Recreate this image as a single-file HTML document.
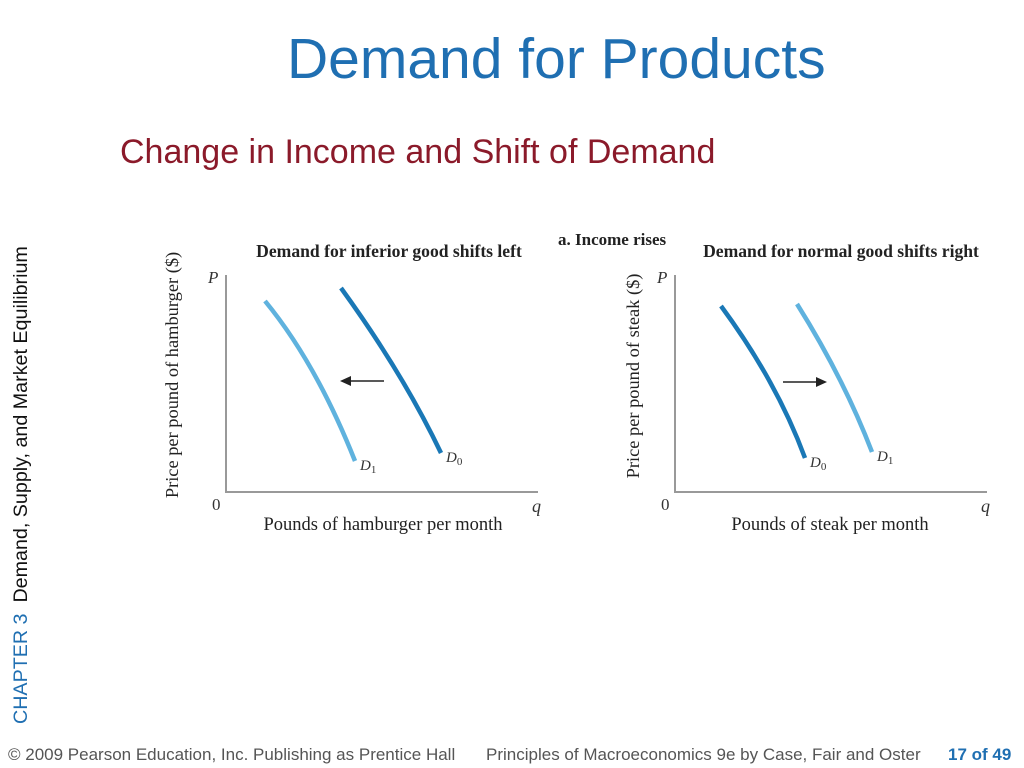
<!DOCTYPE html>
<html><head><meta charset="utf-8">
<style>
body{margin:0;width:1024px;height:768px;background:#fff;position:relative;overflow:hidden;font-family:"Liberation Sans",sans-serif}
.abs{position:absolute;white-space:nowrap}
.foot{font-family:"Liberation Sans Narrow","Liberation Sans",sans-serif;font-size:17px;color:#555;top:745px;transform-origin:0 0}
</style></head><body>
<div class="abs" style="left:287px;top:26px;font-size:57px;color:#1f6fb2">Demand for Products</div>
<div class="abs" style="left:120px;top:133px;font-size:34px;color:#8b1a2a">Change in Income and Shift of Demand</div>
<div class="abs" style="left:10px;top:735px;transform-origin:0 0;transform:rotate(-90deg);font-size:19.7px;color:#111;margin-top:-11px;width:0"><span style="color:#1f6fb2">CHAPTER 3</span>&nbsp; Demand, Supply, and Market Equilibrium</div>
<div class="abs foot" style="left:8px">© 2009 Pearson Education, Inc. Publishing as Prentice Hall</div>
<div class="abs foot" style="left:486px">Principles of Macroeconomics 9e by Case, Fair and Oster</div>
<div class="abs foot" style="left:948px;color:#1f6fb2;font-weight:bold">17 of 49</div>
<svg id="chart" width="1024" height="768" style="position:absolute;left:0;top:0" font-family="Liberation Serif,serif"></svg>
<script>
// data: points (q, p) in axis units, origin at 0
const leftD1Q=[39,87,129], leftD1P=[191,120,31];
const leftD0Q=[115,171,215], leftD0P=[204,120,39];
const rightD0Q=[46,95,130], rightD0P=[186,110,34];
const rightD1Q=[122,164,197], rightD1P=[188,114,40];
const panels=[
 {ox:226,oy:492,w:312,h:217,title:"Demand for inferior good shifts left",tx:389,xlab:"Pounds of hamburger per month",xc:383,ylab:"Price per pound of hamburger ($)",yx:178,yc:375,
  curves:[{q:leftD1Q,p:leftD1P,c:"#5fb2de",lab:"D",sub:"1"},{q:leftD0Q,p:leftD0P,c:"#1a78b6",lab:"D",sub:"0"}],arrow:[158,114,111]},
 {ox:675,oy:492,w:312,h:217,title:"Demand for normal good shifts right",tx:841,xlab:"Pounds of steak per month",xc:830,ylab:"Price per pound of steak ($)",yx:639,yc:376,
  curves:[{q:rightD0Q,p:rightD0P,c:"#1a78b6",lab:"D",sub:"0"},{q:rightD1Q,p:rightD1P,c:"#5fb2de",lab:"D",sub:"1"}],arrow:[108,152,110]}
];
const svg=document.getElementById('chart');
const NS="http://www.w3.org/2000/svg";
function mk(t,a,txt){const e=document.createElementNS(NS,t);for(const k in a)e.setAttribute(k,a[k]);if(txt!==undefined)e.textContent=txt;svg.appendChild(e);return e;}
const t0=mk('text',{x:558,y:245,'font-size':17,'font-weight':'bold',fill:'#222'},'a. Income rises');


panels.forEach((P,i)=>{
 const X=q=>P.ox+q, Y=p=>P.oy-p;
 const ax=mk('path',{d:`M${P.ox},${P.oy-P.h}V${P.oy}H${P.ox+P.w}`,stroke:'#999',fill:'none','stroke-width':2});
 
 
 const tt=mk('text',{x:P.tx,y:257,'font-size':17.6,'font-weight':'bold','text-anchor':'middle',fill:'#222'},P.title);
 
 
 const pl=mk('text',{x:P.ox-18,y:P.oy-P.h+8,'font-size':17,'font-style':'italic',fill:'#333'},'P');
 
 
 const zl=mk('text',{x:P.ox-14,y:P.oy+18,'font-size':17,fill:'#333'},'0');
 
 
 const ql=mk('text',{x:P.ox+P.w-6,y:P.oy+20,'font-size':18,'font-style':'italic',fill:'#333'},'q');
 
 
 const xl=mk('text',{x:P.xc,y:P.oy+38,'font-size':18.5,'text-anchor':'middle',fill:'#222'},P.xlab);
 
 
 const yl=mk('text',{x:0,y:0,'font-size':18.4,'text-anchor':'middle',fill:'#222',transform:`translate(${P.yx},${P.yc}) rotate(-90)`},P.ylab);
 
 
 P.curves.forEach(c=>{
  const x0=X(c.q[0]),y0=Y(c.p[0]),xm=X(c.q[1]),ym=Y(c.p[1]),x1=X(c.q[2]),y1=Y(c.p[2]);
  const cx=2*xm-(x0+x1)/2, cy=2*ym-(y0+y1)/2;
  const pth=mk('path',{d:`M${x0},${y0}Q${cx},${cy} ${x1},${y1}`,stroke:c.c,'stroke-width':4.5,fill:'none'});
  
  
  const lb=mk('text',{x:x1+5,y:y1+9,'font-size':15,'font-style':'italic',fill:'#333'});
  lb.innerHTML=`D<tspan font-size="11" dy="3" font-style="normal">${c.sub}</tspan>`;
  
  
 });
 const [a0,a1,ap]=P.arrow, dir=Math.sign(a1-a0);
 const ar=mk('line',{x1:X(a0),y1:Y(ap),x2:X(a1)-dir*8,y2:Y(ap),stroke:'#222','stroke-width':1.6});
 
 
 const ah=mk('path',{d:`M${X(a1)},${Y(ap)}L${X(a1)-dir*11},${Y(ap)-5}L${X(a1)-dir*11},${Y(ap)+5}Z`,fill:'#222'});
 
 
});
</script>
</body></html>
